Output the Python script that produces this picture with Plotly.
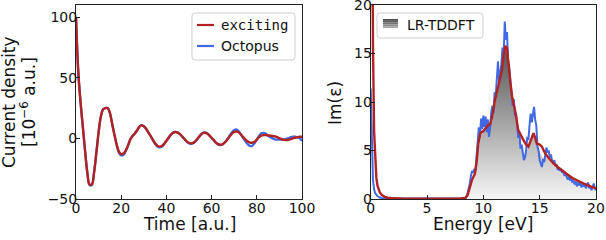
import plotly.graph_objects as go

W, H = 606, 240

# ---------------- Left panel: current density ----------------
time_au = list(range(0, 101))
exciting_j = [100, 55, 30, 10, -10, -28, -38, -38, -28, -12, 5, 18, 24, 25, 25, 21, 12, 3, -5, -11,
              -13, -12.5, -10, -6, -1, 2, 4, 6.5, 9.5, 10.7, 10, 8, 5, 2, -1, -4, -6, -6.8, -6.3, -4.5,
              -2, 0.5, 3, 4.7, 5.2, 4.8, 3.5, 1.5, -0.5, -2.5, -3.8, -4.1, -3.5, -2, 0.3, 2.5, 4.2, 4.6, 4, 2.5,
              0.5, -1.5, -3.5, -4.8, -5.2, -4.6, -3, -0.8, 1.5, 3.8, 5.3, 5.7, 5, 3.2, 1, -1, -2.6, -3.5, -3.6, -2.8,
              -1, 1, 2.3, 2.7, 2.7, 2.5, 2.2, 2, 1.6, 1.0, 0.2, -0.6, -1.3, -1.4, -1.2, -0.6, 0, 0.5, 1, 1.3, 1.4]
octopus_j = [100, 55, 30, 10, -10, -28, -38.5, -38.5, -28, -12, 5, 18, 24, 25, 25, 21, 12, 3, -5.5, -12,
             -14, -13.5, -10.5, -6, -1, 2, 4, 6.5, 9.5, 10.9, 10, 8, 5, 2, -1.5, -4.5, -6.8, -7.4, -6.8, -4.8,
             -2, 0.5, 3, 4.8, 5.4, 5.0, 3.5, 1.5, -0.7, -2.8, -4.2, -4.5, -3.8, -2.2, 0.3, 2.6, 4.5, 5.0, 4.2, 2.5,
             0.3, -1.8, -3.9, -5.2, -5.6, -4.8, -3, -0.5, 2.2, 5.0, 7.0, 7.4, 5.8, 3.0, 0.2, -2.5, -4.8, -6.3, -6.0, -4.0,
             -1, 2.0, 4.2, 4.6, 3.8, 2.2, 1.0, 0.0, -0.8, -1.0, -1.0, -1.0, -0.8, -0.5, 0.2, 1.0, 1.4, 1.5, 0.8, 0.0, -2.0]

# ---------------- Right panel: Im(eps) ----------------
exciting_E = [0.0, 0.1, 0.2, 0.3, 0.4, 0.5, 0.6, 0.7, 0.8, 1.0, 1.25, 1.5, 2.0, 3.0, 5.0, 7.0, 8.0, 8.4,
              8.6, 8.8, 9.0, 9.25, 9.4, 9.55, 9.75, 10.0, 10.2, 10.43, 10.6, 10.75, 11.0, 11.25, 11.5, 11.65,
              11.8, 11.95, 12.1, 12.25, 12.4, 12.55, 12.8, 13.1, 13.3, 13.55, 13.8, 14.0, 14.2, 14.45, 14.6,
              14.75, 15.0, 15.2, 15.4, 15.6, 15.9, 16.2, 16.6, 17.1, 17.5, 18.0, 18.5, 19.0, 19.5, 20.0]
exciting_eps = [80, 40, 16, 7, 3.6, 2.2, 1.4, 1.0, 0.7, 0.4, 0.22, 0.13, 0.07, 0.04, 0.03, 0.03, 0.05, 0.12,
                0.4, 1.2, 2.0, 2.6, 3.8, 5.7, 6.8, 7.0, 7.3, 7.6, 7.7, 8.3, 10.0, 11.3, 12.4, 13.3,
                14.8, 15.8, 15.5, 13.5, 12.0, 10.6, 9.2, 7.1, 6.6, 6.1, 5.6, 5.4, 6.0, 6.8, 6.3,
                5.7, 5.6, 5.4, 4.9, 4.5, 4.1, 3.7, 3.3, 2.8, 2.5, 2.1, 1.8, 1.55, 1.3, 1.1]

octopus_E = [0.0, 0.05, 0.1, 0.15, 0.2, 0.3, 0.4, 0.6, 0.8, 1.0, 2.0, 8.4,
             8.5, 8.6, 8.7, 8.8, 8.9, 9.0, 9.1, 9.2, 9.3, 9.4, 9.5, 9.6, 9.7, 9.8, 9.9,
             10.0, 10.1, 10.2, 10.3, 10.4, 10.5, 10.6, 10.7, 10.8, 10.9,
             11.0, 11.1, 11.2, 11.3, 11.4, 11.5, 11.6, 11.7, 11.8, 11.9,
             12.0, 12.1, 12.2, 12.3, 12.4, 12.5, 12.6, 12.7, 12.8, 12.9,
             13.0, 13.1, 13.2, 13.3, 13.4, 13.5, 13.6, 13.7, 13.8, 13.9,
             14.0, 14.1, 14.2, 14.3, 14.4, 14.5, 14.6, 14.7, 14.8, 14.9,
             15.0, 15.1, 15.2, 15.3, 15.4, 15.5, 15.6, 15.7, 15.8, 15.9,
             16.0, 16.1, 16.2, 16.3, 16.4, 16.5, 16.6, 16.7, 16.8, 16.9,
             17.0, 17.1, 17.2, 17.3, 17.4, 17.5, 17.6, 17.7, 17.8, 17.9,
             18.0, 18.1, 18.2, 18.3, 18.4, 18.5, 18.6, 18.7, 18.8, 18.9,
             19.0, 19.1, 19.2, 19.3, 19.4, 19.5, 19.6, 19.7, 19.8, 19.9, 20.0]
octopus_eps = [11.4, 8.0, 5.0, 3.0, 2.0, 1.0, 0.6, 0.3, 0.15, 0.1, 0.05, 0.05,
               0.2, 0.6, 1.0, 1.6, 2.4, 2.9, 2.7, 3.1, 2.9, 4.4, 6.2, 7.4, 6.5, 8.3, 7.2,
               8.6, 7.4, 8.5, 6.9, 8.2, 6.4, 7.3, 8.9, 9.6, 8.8,
               11.0, 10.6, 12.8, 14.2, 12.1, 12.8, 13.9, 15.6, 14.6, 18.3,
               16.4, 17.2, 14.2, 13.6, 12.0, 11.4, 9.6, 10.3, 8.6, 8.9,
               7.1, 6.3, 6.9, 5.2, 5.6, 4.4, 4.0, 4.3, 5.0, 6.4,
               6.1, 7.6, 8.8, 7.9, 9.1, 9.5, 8.2, 7.6, 5.4, 5.0,
               4.0, 3.6, 3.3, 4.1, 3.8, 4.6, 5.3, 4.8, 5.0, 4.3,
               4.6, 3.9, 3.7, 4.0, 3.4, 3.6, 3.0, 3.2, 2.9, 3.1,
               2.7, 2.9, 2.4, 2.6, 2.3, 2.0, 2.3, 1.9, 2.2, 1.7,
               1.9, 1.5, 1.8, 1.3, 1.7, 1.4, 1.8, 1.2, 1.5, 1.3,
               1.6, 1.1, 1.4, 1.7, 1.1, 1.3, 0.9, 1.4, 1.6, 1.1, 0.9]

lr_E = [8.5, 8.7, 9.0, 9.3, 9.5, 9.8, 10.0, 10.5, 10.8, 11.0, 11.5, 11.8, 12.0, 12.2, 12.5, 12.8, 13.0,
        13.3, 13.6, 13.9, 14.2, 14.5, 14.8, 15.0, 15.3, 15.6, 16.0, 16.5, 17.0, 17.5, 18.0, 18.5, 19.0,
        19.5, 20.0]
lr_eps = [0, 0.5, 1.8, 3.0, 4.8, 6.5, 7.0, 7.2, 8.0, 9.5, 12.2, 14.3, 15.6, 14.0, 10.5, 8.5, 7.0,
          5.5, 4.5, 5.0, 6.2, 6.8, 5.5, 4.8, 4.2, 4.3, 3.9, 3.3, 2.8, 2.4, 2.0, 1.7, 1.4,
          1.2, 1.0]

time_ticks = [0, 20, 40, 60, 80, 100]
j_ticks = [-50, 0, 50, 100]
E_ticks = [0, 5, 10, 15, 20]
eps_ticks = [0, 5, 10, 15, 20]

RED = "#b22222"
BLUE = "#4169e1"
FONT = "DejaVu Sans"
MONO = "DejaVu Sans Mono"


def fx(p):
    return p / W


def fy(p):
    return 1 - p / H


fig = go.Figure()

fig.add_trace(go.Scatter(x=time_au, y=octopus_j, mode="lines", line=dict(color=BLUE, width=2.3, shape="spline"),
                         xaxis="x", yaxis="y", showlegend=False))
fig.add_trace(go.Scatter(x=time_au, y=exciting_j, mode="lines", line=dict(color=RED, width=2.4, shape="spline"),
                         xaxis="x", yaxis="y", showlegend=False))

fig.add_trace(go.Scatter(x=lr_E, y=lr_eps, mode="lines", line=dict(width=0), fill="tozeroy",
                         fillgradient=dict(type="vertical", start=0, stop=16,
                                           colorscale=[[0, "#f6f6f6"], [1, "#505050"]]),
                         xaxis="x2", yaxis="y2", showlegend=False))
fig.add_trace(go.Scatter(x=octopus_E, y=octopus_eps, mode="lines", line=dict(color=BLUE, width=2.0),
                         xaxis="x2", yaxis="y2", showlegend=False))
fig.add_trace(go.Scatter(x=exciting_E, y=exciting_eps, mode="lines", line=dict(color=RED, width=2.4),
                         xaxis="x2", yaxis="y2", showlegend=False))

axis_common = dict(showline=True, linecolor="#222", linewidth=1, mirror=True, ticks="inside", ticklen=4,
                   tickwidth=1, tickcolor="#222", showgrid=False, zeroline=False, automargin=False,
                   ticklabeloverflow="allow",
                   tickfont=dict(family=FONT, size=14, color="#111"))

y0, y1 = fy(199), fy(5)
fig.update_layout(
    width=W, height=H,
    margin=dict(l=0, r=0, t=0, b=0, pad=0),
    paper_bgcolor="white", plot_bgcolor="white",
    xaxis=dict(domain=[fx(76), fx(302)], range=[0, 100], tickvals=time_ticks, anchor="y",
               ticklabelstandoff=-4, **axis_common),
    yaxis=dict(domain=[y0, y1], range=[-50, 110], tickvals=j_ticks, anchor="x",
               ticklabelstandoff=-5, **axis_common),
    xaxis2=dict(domain=[fx(370.7), fx(596)], range=[0, 20], tickvals=E_ticks, anchor="y2",
                ticklabelstandoff=-4, **axis_common),
    yaxis2=dict(domain=[y0, y1], range=[0, 20], tickvals=eps_ticks, anchor="x2",
                ticklabelstandoff=-5, **axis_common),
    showlegend=False,
)


def rounded_box(x0, y0p, x1, y1p, r=3):
    pts = [
        ("M", x0 + r, y0p), ("L", x1 - r, y0p), ("Q", x1, y0p, x1, y0p + r), ("L", x1, y1p - r),
        ("Q", x1, y1p, x1 - r, y1p), ("L", x0 + r, y1p), ("Q", x0, y1p, x0, y1p - r), ("L", x0, y0p + r),
        ("Q", x0, y0p, x0 + r, y0p),
    ]
    s = ""
    for p in pts:
        if p[0] in ("M", "L"):
            s += f"{p[0]}{fx(p[1]):.5f},{fy(p[2]):.5f} "
        else:
            s += f"Q{fx(p[1]):.5f},{fy(p[2]):.5f} {fx(p[3]):.5f},{fy(p[4]):.5f} "
    return s + "Z"


shapes = []
# left legend box
shapes.append(dict(type="path", xref="paper", yref="paper", path=rounded_box(192, 13, 295, 60),
                   line=dict(color="#d0d0d0", width=1), fillcolor="rgba(255,255,255,0.85)"))
shapes.append(dict(type="line", xref="paper", yref="paper", x0=fx(197), x1=fx(214), y0=fy(25), y1=fy(25),
                   line=dict(color=RED, width=2.2)))
shapes.append(dict(type="line", xref="paper", yref="paper", x0=fx(197), x1=fx(214), y0=fy(46), y1=fy(46),
                   line=dict(color=BLUE, width=2.2)))
# right legend box
shapes.append(dict(type="path", xref="paper", yref="paper", path=rounded_box(377, 13, 483, 38),
                   line=dict(color="#d0d0d0", width=1), fillcolor="rgba(255,255,255,0.85)"))
swatch_shades = ["#4a4a4a", "#5e5e5e", "#747474", "#8c8c8c", "#a4a4a4"]
for i, c in enumerate(swatch_shades):
    shapes.append(dict(type="rect", xref="paper", yref="paper", x0=fx(383), x1=fx(398),
                       y0=fy(19 + i * 1.8), y1=fy(19 + (i + 1) * 1.8), line=dict(width=0), fillcolor=c))

annotations = [
    dict(text="exciting", x=fx(219), y=fy(25), xanchor="left", yanchor="middle",
         font=dict(family=MONO, size=14, color="#111")),
    dict(text="Octopus", x=fx(219), y=fy(46), xanchor="left", yanchor="middle",
         font=dict(family=FONT, size=14, color="#111")),
    dict(text="LR-TDDFT", x=fx(405), y=fy(25), xanchor="left", yanchor="middle",
         font=dict(family=FONT, size=14, color="#111")),
    dict(text="Time [a.u.]", x=fx(189), y=fy(224), xanchor="center", yanchor="middle",
         font=dict(family=FONT, size=17, color="#111")),
    dict(text="Energy [eV]", x=fx(483), y=fy(224), xanchor="center", yanchor="middle",
         font=dict(family=FONT, size=17, color="#111")),
    dict(text="Current density", x=fx(9), y=fy(102), xanchor="center", yanchor="middle", textangle=-90,
         font=dict(family=FONT, size=17, color="#111")),
    dict(text="[10<sup>−6</sup> a.u.]", x=fx(28), y=fy(102), xanchor="center", yanchor="middle", textangle=-90,
         font=dict(family=FONT, size=17, color="#111")),
    dict(text="Im(ε)", x=fx(335), y=fy(103), xanchor="center", yanchor="middle", textangle=-90,
         font=dict(family=FONT, size=17, color="#111")),
]
for a in annotations:
    a.update(xref="paper", yref="paper", showarrow=False)

fig.update_layout(shapes=shapes, annotations=annotations)

# remove the browser's default 8 px page margin so the figure sits at the window origin
fig.write_html("out.html", config=dict(displayModeBar=False),
               post_script="document.body.style.margin='0px';")
